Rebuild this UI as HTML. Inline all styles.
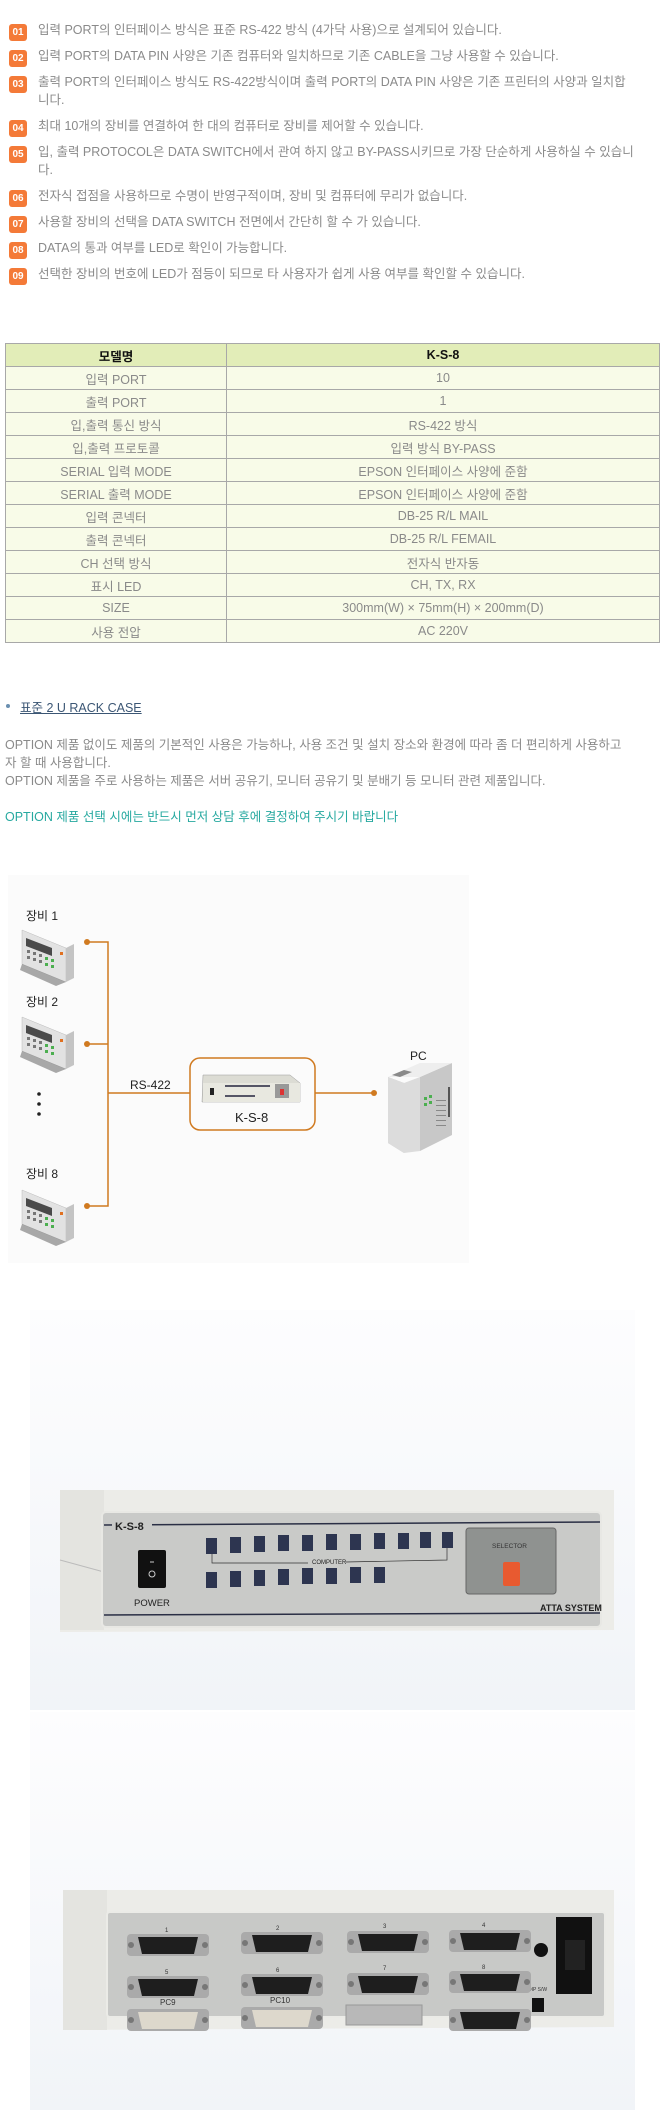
<!DOCTYPE html>
<html><head><meta charset="utf-8">
<style>
*{margin:0;padding:0;box-sizing:border-box}
body{width:661px;height:2115px;background:#fff;position:relative;font-family:"Liberation Sans","Noto Sans CJK KR",sans-serif;overflow:hidden}
.it{position:absolute;left:38px;font-size:12.5px;color:#8a8a8a;line-height:18px;white-space:nowrap}
.b{position:absolute;left:9px;width:18px;height:17px;background:#f47a38;border-radius:3px;color:#fff;font-size:10px;font-weight:bold;text-align:center;line-height:17px}
table{position:absolute;left:5px;top:343px;width:655px;border-collapse:collapse}
td{border:1px solid #a8a8a8;height:23px;text-align:center;font-size:12.5px;color:#8a8a8a;background:#f8fbe8;padding:0}
tr.h td{background:#e2edb8;color:#111;font-weight:bold;font-size:12.5px}
td.l{width:221px}
.t{position:absolute;font-size:12.5px;color:#8a8a8a;white-space:nowrap}
</style></head><body>

<div class="b" style="top:24px">01</div><div class="it" style="top:21px">입력 PORT의 인터페이스 방식은 표준 RS-422 방식 (4가닥 사용)으로 설계되어 있습니다.</div>
<div class="b" style="top:50px">02</div><div class="it" style="top:47px">입력 PORT의 DATA PIN 사양은 기존 컴퓨터와 일치하므로 기존 CABLE을 그냥 사용할 수 있습니다.</div>
<div class="b" style="top:76px">03</div><div class="it" style="top:73px">출력 PORT의 인터페이스 방식도 RS-422방식이며 출력 PORT의 DATA PIN 사양은 기존 프린터의 사양과 일치합<br>니다.</div>
<div class="b" style="top:120px">04</div><div class="it" style="top:117px">최대 10개의 장비를 연결하여 한 대의 컴퓨터로 장비를 제어할 수 있습니다.</div>
<div class="b" style="top:146px">05</div><div class="it" style="top:143px">입, 출력 PROTOCOL은 DATA SWITCH에서 관여 하지 않고 BY-PASS시키므로 가장 단순하게 사용하실 수 있습니<br>다.</div>
<div class="b" style="top:190px">06</div><div class="it" style="top:187px">전자식 접점을 사용하므로 수명이 반영구적이며, 장비 및 컴퓨터에 무리가 없습니다.</div>
<div class="b" style="top:216px">07</div><div class="it" style="top:213px">사용할 장비의 선택을 DATA SWITCH 전면에서 간단히 할 수 가 있습니다.</div>
<div class="b" style="top:242px">08</div><div class="it" style="top:239px">DATA의 통과 여부를 LED로 확인이 가능합니다.</div>
<div class="b" style="top:268px">09</div><div class="it" style="top:265px">선택한 장비의 번호에 LED가 점등이 되므로 타 사용자가 쉽게 사용 여부를 확인할 수 있습니다.</div>

<table>
<tr class="h"><td class="l">모델명</td><td>K-S-8</td></tr>
<tr><td class="l">입력 PORT</td><td>10</td></tr>
<tr><td class="l">출력 PORT</td><td>1</td></tr>
<tr><td class="l">입,출력 통신 방식</td><td>RS-422 방식</td></tr>
<tr><td class="l">입,출력 프로토콜</td><td>입력 방식 BY-PASS</td></tr>
<tr><td class="l">SERIAL 입력 MODE</td><td>EPSON 인터페이스 사양에 준함</td></tr>
<tr><td class="l">SERIAL 출력 MODE</td><td>EPSON 인터페이스 사양에 준함</td></tr>
<tr><td class="l">입력 콘넥터</td><td>DB-25 R/L MAIL</td></tr>
<tr><td class="l">출력 콘넥터</td><td>DB-25 R/L FEMAIL</td></tr>
<tr><td class="l">CH 선택 방식</td><td>전자식 반자동</td></tr>
<tr><td class="l">표시 LED</td><td>CH, TX, RX</td></tr>
<tr><td class="l">SIZE</td><td>300mm(W) × 75mm(H) × 200mm(D)</td></tr>
<tr><td class="l">사용 전압</td><td>AC 220V</td></tr>
</table>

<div style="position:absolute;left:6px;top:704px;width:4px;height:4px;border-radius:2px;background:#6a8fb0"></div>
<div class="t" style="left:20px;top:697px;color:#3b5674;text-decoration:underline">표준 2 U RACK CASE</div>
<div class="t" style="left:5px;top:734px">OPTION 제품 없이도 제품의 기본적인 사용은 가능하나, 사용 조건 및 설치 장소와 환경에 따라 좀 더 편리하게 사용하고</div>
<div class="t" style="left:5px;top:752px">자 할 때 사용합니다.</div>
<div class="t" style="left:5px;top:770px">OPTION 제품을 주로 사용하는 제품은 서버 공유기, 모니터 공유기 및 분배기 등 모니터 관련 제품입니다.</div>
<div class="t" style="left:5px;top:806px;color:#27a9a0">OPTION 제품 선택 시에는 반드시 먼저 상담 후에 결정하여 주시기 바랍니다</div>

<svg style="position:absolute;left:0;top:870px" width="661" height="400">
<defs>
<g id="dev">
<polygon points="2,0 46,18 46,52 2,34" fill="#e2e2e2" stroke="#bbb" stroke-width="0.5"/>
<polygon points="46,18 54,14 54,48 46,52" fill="#c4c4c4"/>
<polygon points="2,34 46,52 36,56 0,40" fill="#555" opacity="0.5"/>
<polygon points="6,8 32,18 32,26 6,16" fill="#4a4a4a"/>
<g fill="#777"><rect x="7" y="20" width="3" height="3"/><rect x="13" y="22" width="3" height="3"/><rect x="19" y="24" width="3" height="3"/><rect x="7" y="26" width="3" height="3"/><rect x="13" y="28" width="3" height="3"/><rect x="19" y="30" width="3" height="3"/></g>
<g fill="#4caf50"><rect x="25" y="27" width="3" height="3"/><rect x="31" y="29" width="3" height="3"/><rect x="25" y="33" width="3" height="3"/><rect x="31" y="35" width="3" height="3"/></g>
<rect x="40" y="22" width="3" height="3" fill="#e07020"/>
</g>
</defs>
<rect x="8" y="5" width="461" height="388" fill="#fbfbfb"/>
<use href="#dev" x="20" y="60"/><use href="#dev" x="20" y="147"/><use href="#dev" x="20" y="320"/>
<circle cx="39" cy="224" r="1.8" fill="#222"/><circle cx="39" cy="234" r="1.8" fill="#222"/><circle cx="39" cy="244" r="1.8" fill="#222"/>
<g stroke="#d07a20" stroke-width="1.5" fill="none">
<polyline points="87,72 108,72 108,336 87,336"/>
<line x1="87" y1="174" x2="108" y2="174"/>
<line x1="108" y1="223" x2="190" y2="223"/>
<line x1="315" y1="223" x2="374" y2="223"/>
<rect x="190" y="188" width="125" height="72" rx="10"/>
</g>
<g fill="#d07a20"><circle cx="87" cy="72" r="3"/><circle cx="87" cy="174" r="3"/><circle cx="87" cy="336" r="3"/><circle cx="374" cy="223" r="3"/></g>
<polygon points="203,205 290,205 300,213 300,232 202,232" fill="#dcdcd4" stroke="#999" stroke-width="0.5"/>
<rect x="203" y="213" width="97" height="19" fill="#e8e8e0"/>
<rect x="210" y="218" width="4" height="7" fill="#222"/>
<rect x="275" y="214" width="14" height="14" fill="#999"/><rect x="280" y="219" width="4" height="6" fill="#d33"/>
<g fill="#556"><rect x="225" y="215" width="45" height="2"/><rect x="225" y="225" width="30" height="2"/></g>
<g transform="translate(0,65)">
<polygon points="388,142 404,148 404,218 388,208" fill="#ccc"/>
<polygon points="388,142 404,148 420,142 420,216 404,218 388,208" fill="#dcdcdc"/>
<polygon points="420,142 452,128 452,200 420,216" fill="#c8c8c8"/>
<polygon points="388,142 420,128 452,128 420,142" fill="#eee"/>
<polygon points="392,140 404,135 412,137 400,142" fill="#8a8a8a"/>
<g fill="#888"><rect x="436" y="165" width="10" height="1"/><rect x="436" y="170" width="10" height="1"/><rect x="436" y="175" width="10" height="1"/><rect x="436" y="180" width="10" height="1"/><rect x="436" y="185" width="10" height="1"/><rect x="436" y="190" width="10" height="1"/></g>
<g fill="#4caf50"><rect x="424" y="162" width="3" height="3"/><rect x="429" y="160" width="3" height="3"/><rect x="424" y="168" width="3" height="3"/><rect x="429" y="166" width="3" height="3"/></g>
<rect x="448" y="152" width="2" height="30" fill="#555"/>
</g>
<g font-family="Liberation Sans,Noto Sans CJK KR,sans-serif" font-size="12" fill="#222">
<text x="26" y="50">장비 1</text><text x="26" y="136">장비 2</text><text x="26" y="308">장비 8</text>
<text x="130" y="219">RS-422</text><text x="410" y="190">PC</text>
<text x="235" y="252" font-size="13">K-S-8</text>
</g>
</svg>

<!-- Photo 1 -->
<svg style="position:absolute;left:0;top:1310px" width="661" height="400">
<defs><linearGradient id="bg1" x1="0" y1="0" x2="0" y2="1"><stop offset="0" stop-color="#fdfdfe"/><stop offset="1" stop-color="#f1f4f8"/></linearGradient></defs>
<rect x="30" y="0" width="605" height="400" fill="url(#bg1)"/>
<polygon points="60,180 614,180 614,320 60,322" fill="#ecece8"/>
<rect x="60" y="180" width="44" height="140" fill="#e4e4e0"/>
<line x1="60" y1="250" x2="104" y2="262" stroke="#bbb"/>
<rect x="102" y="202" width="499" height="115" rx="4" fill="#c9cac8" stroke="#e8e8e4" stroke-width="2"/>
<line x1="104" y1="215" x2="600" y2="212" stroke="#2a2f45" stroke-width="1.5"/>
<line x1="104" y1="305" x2="600" y2="303" stroke="#2a2f45" stroke-width="1.5"/>
<rect x="112" y="208" width="40" height="14" fill="#c9cac8"/>
<text x="115" y="220" font-family="Liberation Sans,sans-serif" font-weight="bold" font-size="11" fill="#222">K-S-8</text>
<rect x="138" y="240" width="28" height="38" rx="2" fill="#111"/>
<circle cx="152" cy="264" r="3" fill="none" stroke="#ccc"/>
<line x1="150" y1="252" x2="154" y2="252" stroke="#ccc"/>
<text x="134" y="296" font-family="Liberation Sans,sans-serif" font-size="9.5" fill="#222">POWER</text>
<g fill="#2d3550">
<rect x="206" y="228" width="11" height="16"/><rect x="230" y="227" width="11" height="16"/><rect x="254" y="226" width="11" height="16"/><rect x="278" y="225" width="11" height="16"/><rect x="302" y="225" width="11" height="16"/><rect x="326" y="224" width="11" height="16"/><rect x="350" y="224" width="11" height="16"/><rect x="374" y="223" width="11" height="16"/><rect x="398" y="223" width="11" height="16"/><rect x="420" y="222" width="11" height="16"/><rect x="442" y="222" width="11" height="16"/>
<rect x="206" y="262" width="11" height="16"/><rect x="230" y="261" width="11" height="16"/><rect x="254" y="260" width="11" height="16"/><rect x="278" y="259" width="11" height="16"/><rect x="302" y="258" width="11" height="16"/><rect x="326" y="258" width="11" height="16"/><rect x="350" y="257" width="11" height="16"/><rect x="374" y="257" width="11" height="16"/>
</g>
<text x="312" y="254" font-family="Liberation Sans,sans-serif" font-size="6" fill="#222">COMPUTER</text>
<polyline points="212,244 212,253 308,253" fill="none" stroke="#333" stroke-width="0.7"/>
<polyline points="346,252 447,250 447,238" fill="none" stroke="#333" stroke-width="0.7"/>
<rect x="466" y="218" width="90" height="66" rx="3" fill="#8f9290" stroke="#666"/>
<text x="492" y="238" font-family="Liberation Sans,sans-serif" font-size="6.5" fill="#333">SELECTOR</text>
<rect x="503" y="252" width="17" height="24" rx="2" fill="#e85a30"/>
<text x="540" y="301" font-family="Liberation Sans,sans-serif" font-weight="bold" font-size="9" fill="#222">ATTA SYSTEM</text>
</svg>

<!-- Photo 2 -->
<svg style="position:absolute;left:0;top:1712px" width="661" height="400">
<defs><linearGradient id="bg2" x1="0" y1="0" x2="0" y2="1"><stop offset="0" stop-color="#fdfdfe"/><stop offset="1" stop-color="#f1f4f8"/></linearGradient>
<g id="db"><rect x="-5" y="-3" width="82" height="22" rx="4" fill="#aaa"/><circle cx="-1" cy="8" r="3" fill="#777"/><circle cx="73" cy="8" r="3" fill="#777"/><polygon points="6,0 66,0 62,17 10,17" fill="#1e1e1e"/></g>
<g id="dbf"><rect x="-5" y="-3" width="82" height="22" rx="4" fill="#aaa"/><circle cx="-1" cy="8" r="3" fill="#777"/><circle cx="73" cy="8" r="3" fill="#777"/><polygon points="6,0 66,0 62,17 10,17" fill="#ddd8cc"/></g></defs>
<rect x="30" y="0" width="605" height="398" fill="url(#bg2)"/>
<polygon points="63,178 614,178 614,315 63,318" fill="#ecece8"/>
<rect x="63" y="178" width="44" height="140" fill="#e4e4e0"/>
<rect x="107" y="200" width="498" height="105" rx="3" fill="#c8c9c7" stroke="#ebebe7" stroke-width="2"/>
<g font-family="Liberation Sans,sans-serif" font-size="6" fill="#333">
<text x="165" y="220">1</text><text x="276" y="218">2</text><text x="383" y="216">3</text><text x="482" y="215">4</text>
<text x="165" y="262">5</text><text x="276" y="260">6</text><text x="383" y="258">7</text><text x="482" y="257">8</text>
<text x="356" y="282" font-size="5">RS232C  REMOTE</text><text x="470" y="280" font-size="7">IN/OUT</text><text x="528" y="279" font-size="5">DIP S/W</text>
<text x="160" y="293" font-size="8">PC9</text><text x="270" y="291" font-size="8">PC10</text>
</g>
<use href="#db" x="132" y="225"/><use href="#db" x="246" y="223"/><use href="#db" x="352" y="222"/><use href="#db" x="454" y="221"/>
<use href="#db" x="132" y="267"/><use href="#db" x="246" y="265"/><use href="#db" x="352" y="264"/><use href="#db" x="454" y="262"/>
<use href="#dbf" x="132" y="300"/><use href="#dbf" x="246" y="298"/>
<rect x="346" y="293" width="76" height="20" fill="#b8b8b8" stroke="#999"/>
<use href="#db" x="454" y="300"/>
<circle cx="541" cy="238" r="7" fill="#111"/>
<rect x="532" y="286" width="12" height="14" fill="#111"/>
<polygon points="556,205 592,205 592,282 556,282" fill="#111"/>
<rect x="565" y="228" width="20" height="30" fill="#222"/>
</svg>
</body></html>
